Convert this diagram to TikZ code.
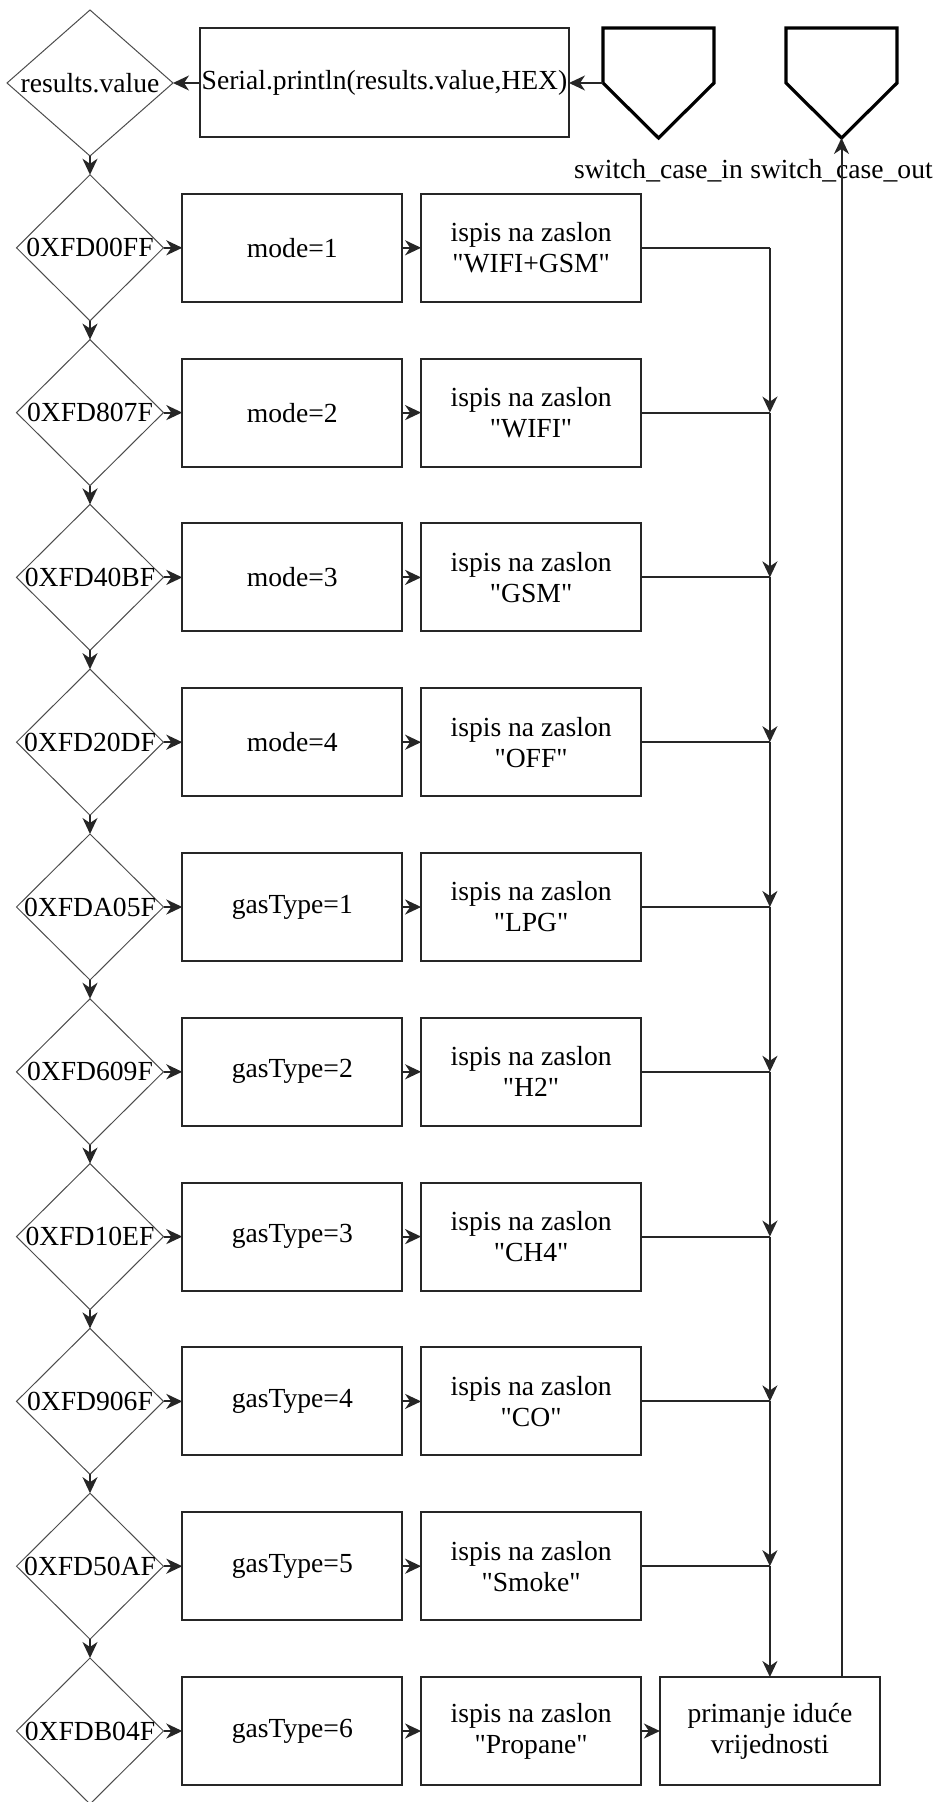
\documentclass[tikz,border=0pt]{standalone}
\usepackage{fontspec}
\setmainfont{Liberation Serif}
\usetikzlibrary{positioning,shapes.geometric,arrows.meta}

\newcommand{\hexval}[1]{\makebox[0pt]{#1}}
\newcommand{\qt}[1]{\textquotedbl#1\textquotedbl}

\begin{document}
\begin{tikzpicture}[%
    ->,
    >={Stealth[length=8pt,width=7.5pt,inset=2.5pt]},
    line width=1pt,
    draw=black!85,
    node distance=9.4pt,
    font=\fontsize{13.8pt}{15.5pt}\selectfont,
    test/.style={%
      diamond,
      draw=black!70,
      line width=0.5pt,
      minimum width=73.5pt,
      minimum height=73pt,
      inner sep=0pt,
      outer sep=0pt
    },
    box/.style={%
      rectangle,
      minimum width=110pt,
      minimum height=54pt,
      align=center,
      inner sep=0pt,
      outer sep=0pt,
      draw=black!85,
      line width=1pt
    },
    port/.style={%
      rectangle,
      minimum width=55.5pt,
      minimum height=55pt,
      inner sep=0pt,
      outer sep=0pt
    }
  ]
    \useasboundingbox (0,0) rectangle (467.5pt,-901pt);

    % top row
    \node[test, minimum width=83pt] (d0) at (45pt,-41.5pt) {\hexval{results.value}};
    \node[box, minimum width=184.5pt, minimum height=54.5pt] (ser) [right=13.5pt of d0] {Serial.println(results.value,HEX)};
    \node[port] (swin) [right=17pt of ser] {};
    \node[port] (swout) [right=36pt of swin] {};
    \draw[-, black, line width=1.6pt] (swin.north west) -- (swin.west) -- (swin.south) -- (swin.east) -- (swin.north east) -- cycle;
    \draw[-, black, line width=1.6pt] (swout.north west) -- (swout.west) -- (swout.south) -- (swout.east) -- (swout.north east) -- cycle;
    \node[inner sep=0pt] (lin) [below=10pt of swin] {switch\_case\_in};
    \node[inner sep=0pt] (lout) [below=10pt of swout] {switch\_case\_out};

    % cases
    \node[test] (d1) [below=of d0] {\hexval{0XFD00FF}};
    \node[box] (a1) [right=of d1] {mode=1};
    \node[box] (p1) [right=of a1] {ispis na zaslon\\\qt{WIFI+GSM}};
    \node[test] (d2) [below=of d1] {\hexval{0XFD807F}};
    \node[box] (a2) [right=of d2] {mode=2};
    \node[box] (p2) [right=of a2] {ispis na zaslon\\\qt{WIFI}};
    \node[test] (d3) [below=of d2] {\hexval{0XFD40BF}};
    \node[box] (a3) [right=of d3] {mode=3};
    \node[box] (p3) [right=of a3] {ispis na zaslon\\\qt{GSM}};
    \node[test] (d4) [below=of d3] {\hexval{0XFD20DF}};
    \node[box] (a4) [right=of d4] {mode=4};
    \node[box] (p4) [right=of a4] {ispis na zaslon\\\qt{OFF}};
    \node[test] (d5) [below=of d4] {\hexval{0XFDA05F}};
    \node[box] (a5) [right=of d5] {gasType=1};
    \node[box] (p5) [right=of a5] {ispis na zaslon\\\qt{LPG}};
    \node[test] (d6) [below=of d5] {\hexval{0XFD609F}};
    \node[box] (a6) [right=of d6] {gasType=2};
    \node[box] (p6) [right=of a6] {ispis na zaslon\\\qt{H2}};
    \node[test] (d7) [below=of d6] {\hexval{0XFD10EF}};
    \node[box] (a7) [right=of d7] {gasType=3};
    \node[box] (p7) [right=of a7] {ispis na zaslon\\\qt{CH4}};
    \node[test] (d8) [below=of d7] {\hexval{0XFD906F}};
    \node[box] (a8) [right=of d8] {gasType=4};
    \node[box] (p8) [right=of a8] {ispis na zaslon\\\qt{CO}};
    \node[test] (d9) [below=of d8] {\hexval{0XFD50AF}};
    \node[box] (a9) [right=of d9] {gasType=5};
    \node[box] (p9) [right=of a9] {ispis na zaslon\\\qt{Smoke}};
    \node[test] (d10) [below=of d9] {\hexval{0XFDB04F}};
    \node[box] (a10) [right=of d10] {gasType=6};
    \node[box] (p10) [right=of a10] {ispis na zaslon\\\qt{Propane}};
    \node[box] (next) [right=of p10] {primanje iduće\\vrijednosti};

    % junctions on the collecting line
    \coordinate (j1) at (p1.east -| next.north);
    \coordinate (j2) at (p2.east -| next.north);
    \coordinate (j3) at (p3.east -| next.north);
    \coordinate (j4) at (p4.east -| next.north);
    \coordinate (j5) at (p5.east -| next.north);
    \coordinate (j6) at (p6.east -| next.north);
    \coordinate (j7) at (p7.east -| next.north);
    \coordinate (j8) at (p8.east -| next.north);
    \coordinate (j9) at (p9.east -| next.north);

    \path (swin) edge (ser)
          (ser) edge (d0)
          (d0) edge (d1)
          (d1) edge (d2)
          (d2) edge (d3)
          (d3) edge (d4)
          (d4) edge (d5)
          (d5) edge (d6)
          (d6) edge (d7)
          (d7) edge (d8)
          (d8) edge (d9)
          (d9) edge (d10)
          (d1) edge (a1)
          (d2) edge (a2)
          (d3) edge (a3)
          (d4) edge (a4)
          (d5) edge (a5)
          (d6) edge (a6)
          (d7) edge (a7)
          (d8) edge (a8)
          (d9) edge (a9)
          (d10) edge (a10)
          (a1) edge (p1)
          (a2) edge (p2)
          (a3) edge (p3)
          (a4) edge (p4)
          (a5) edge (p5)
          (a6) edge (p6)
          (a7) edge (p7)
          (a8) edge (p8)
          (a9) edge (p9)
          (a10) edge (p10)
          (p1) edge[-] (j1)
          (p2) edge[-] (j2)
          (p3) edge[-] (j3)
          (p4) edge[-] (j4)
          (p5) edge[-] (j5)
          (p6) edge[-] (j6)
          (p7) edge[-] (j7)
          (p8) edge[-] (j8)
          (p9) edge[-] (j9)
          (j1) edge (j2)
          (j2) edge (j3)
          (j3) edge (j4)
          (j4) edge (j5)
          (j5) edge (j6)
          (j6) edge (j7)
          (j7) edge (j8)
          (j8) edge (j9)
          (j9) edge (next)
          (p10) edge (next)
          (next.north -| swout.south) edge (swout.south);
\end{tikzpicture}
\end{document}
